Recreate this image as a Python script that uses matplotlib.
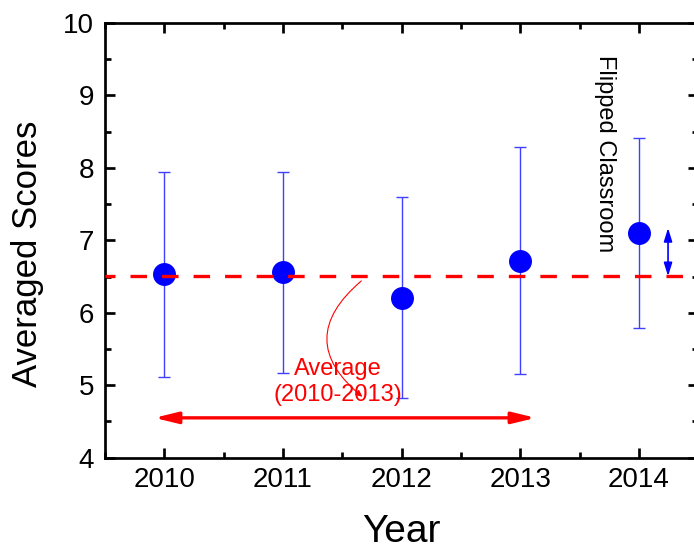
import numpy as np
import matplotlib
matplotlib.use("Agg")
import matplotlib.pyplot as plt
from matplotlib.ticker import MultipleLocator

plt.rcParams["font.family"] = ["Liberation Sans", "DejaVu Sans"]
plt.rcParams["lines.scale_dashes"] = False

# Yearly averaged scores with their standard deviations
years = [2010, 2011, 2012, 2013, 2014]
year_labels = ["2010", "2011", "2012", "2013", "2014"]
scores = [6.53, 6.56, 6.21, 6.72, 7.10]
score_sd = [1.41, 1.39, 1.39, 1.57, 1.31]
y_ticks = [4, 5, 6, 7, 8, 9, 10]

# Mean of the years before the flipped classroom
avg_before = float(np.mean(scores[:4]))

fig = plt.figure(figsize=(6.94, 5.52), dpi=100)
W, H = 694, 552
left_px, right_px, top_px, bottom_px = 105, 698.3, 23, 457.7
ax = fig.add_axes([left_px / W, 1 - bottom_px / H,
                   (right_px - left_px) / W, (bottom_px - top_px) / H])

ax.errorbar(years, scores, yerr=score_sd, fmt="o", color="#0000ff",
            markeredgecolor="#0000ff", ecolor="#4040ff", elinewidth=1.0,
            capsize=4.2, capthick=1.0, markersize=15.5, zorder=3)

ax.axhline(avg_before, color="#ff0000", lw=2.4,
           linestyle=(4.7, (11.9, 10.8)), zorder=4)

# Span of the years used for the average
ax.annotate("", xy=(2013.13, 4.55), xytext=(2009.915, 4.55),
            arrowprops=dict(arrowstyle="<|-|>,head_length=14,head_width=3.4",
                            mutation_scale=1, lw=2.4, color="#ff0000",
                            shrinkA=0, shrinkB=0))

ax.text(2011.46, 5.04, "Average\n(2010-2013)", color="#ff0000", fontsize=17,
        ha="center", va="center", multialignment="center", linespacing=1.25)

ax.annotate("", xy=(2011.67, 4.84), xytext=(2011.66, 6.44),
            arrowprops=dict(arrowstyle="-|>,head_length=4,head_width=1.8",
                            mutation_scale=1, lw=0.8, color="#ff0000",
                            shrinkA=0, shrinkB=0,
                            connectionstyle="arc3,rad=0.6"))

# Gain of 2014 over the earlier average
ax.annotate("", xy=(2014.245, 7.17), xytext=(2014.245, avg_before),
            arrowprops=dict(arrowstyle="<|-|>,head_length=8,head_width=2.5",
                            mutation_scale=1, lw=1.2, color="#0000ff",
                            shrinkA=0, shrinkB=0))

ax.text(2013.71, 8.2, "Flipped Classroom", rotation=270, fontsize=17,
        ha="center", va="center", color="black")

ax.set_xlim(2009.5, 2014.5)
ax.set_ylim(4, 10)
ax.set_xticks(years)
ax.set_xticklabels(year_labels)
ax.set_yticks(y_ticks)
ax.set_yticklabels([str(v) for v in y_ticks])
ax.xaxis.set_minor_locator(MultipleLocator(0.5))
ax.yaxis.set_minor_locator(MultipleLocator(0.5))

for s in ax.spines.values():
    s.set_linewidth(1.95)
ax.tick_params(which="both", direction="in", top=True, right=True,
               width=1.95, labelsize=20)
ax.tick_params(which="major", length=7.2)
ax.tick_params(which="minor", length=4)
ax.tick_params(axis="x", pad=6.5)
ax.tick_params(axis="y", pad=8)

ax.set_xlabel("Year", fontsize=28)
ax.set_ylabel("Averaged Scores", fontsize=25)
ax.xaxis.set_label_coords(0.5, -0.172)
ax.xaxis.label.set_va("center")
ax.yaxis.set_label_coords(-0.1298, 0.47)
ax.yaxis.label.set_va("center")
ax.yaxis.label.set_ha("center")

fig.savefig("out.png", dpi=100)
